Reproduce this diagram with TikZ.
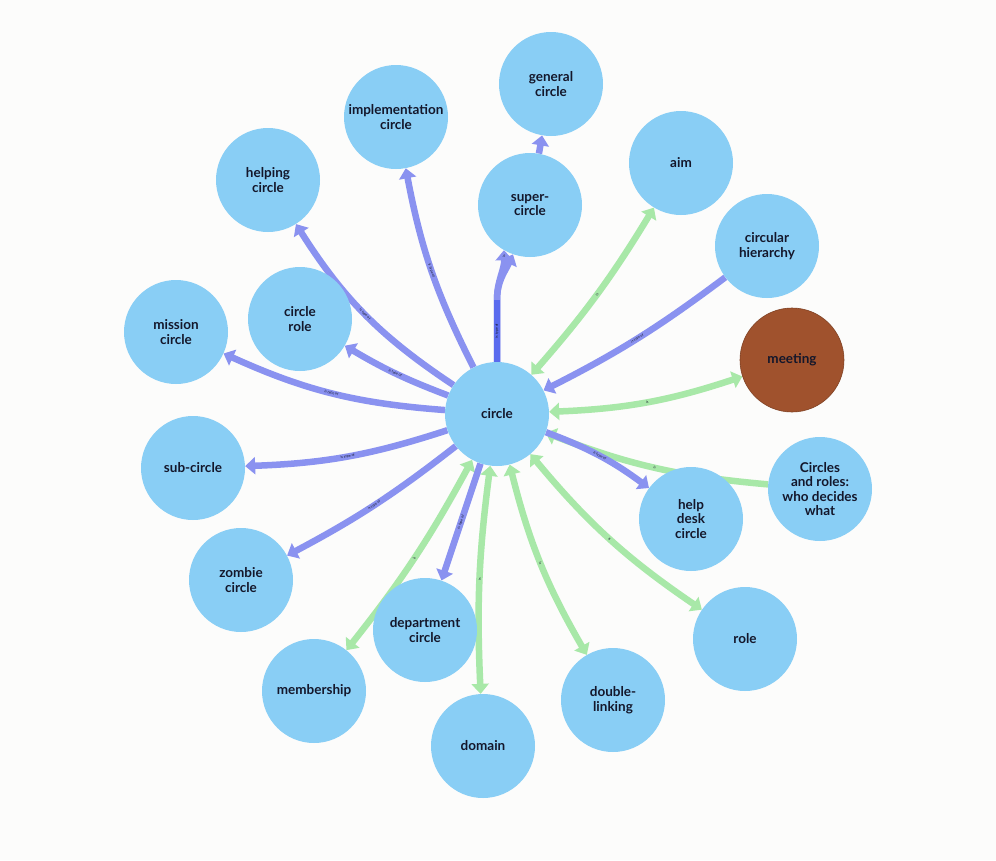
\documentclass[tikz,border=0pt]{standalone}
\usepackage{fontspec}
\setmainfont{Lato}
\usetikzlibrary{arrows.meta,backgrounds}
\definecolor{nodeblue}{HTML}{89CEF5}
\definecolor{edgeblue}{HTML}{8A92F0}
\definecolor{edgedark}{HTML}{5A6BEE}
\definecolor{edgegreen}{HTML}{A8E8A8}
\definecolor{brown}{HTML}{A0522D}
\definecolor{txt}{HTML}{14172B}
\definecolor{bg}{HTML}{FCFCFB}
\tikzset{
  concept/.style={circle, fill=nodeblue, minimum size=104pt, inner sep=0pt, align=center,
    font=\bfseries\fontsize{13.5}{14.5}\selectfont, text=txt},
  meetnode/.style={concept, fill=brown, draw=brown!80!black, line width=0.6pt},
  isa/.style={draw=edgeblue, line width=6.5pt, -{Triangle[length=10pt,width=17pt]}},
  shared/.style={draw=edgedark, line width=6.5pt},
  rel/.style={draw=edgegreen, line width=6.5pt, {Triangle[length=10pt,width=17pt]}-{Triangle[length=10pt,width=17pt]}},
  relone/.style={draw=edgegreen, line width=6.5pt, -{Triangle[length=10pt,width=17pt]}},
  lbl/.style={font=\fontsize{3.5}{4}\selectfont, text=txt, sloped, inner sep=0pt}
}
\begin{document}
\begin{tikzpicture}[x=1pt,y=1pt]
\useasboundingbox (0,0) rectangle (996,-860);

\node[concept] (circle) at (497,-414) {circle};
\node[concept] (general) at (551,-84) {general\\circle};
\node[concept] (impl) at (396,-117) {implementation\\circle};
\node[concept] (helping) at (268,-180) {helping\\circle};
\node[concept] (super) at (530,-205) {super-\\circle};
\node[concept] (aim) at (681,-163) {aim};
\node[concept] (hier) at (767,-246) {circular\\hierarchy};
\node[concept] (mission) at (176,-332) {mission\\circle};
\node[concept] (role1) at (300,-319) {circle\\role};
\node[meetnode] (meeting) at (792,-360) {meeting};
\node[concept] (sub) at (193,-468) {sub-circle};
\node[concept] (help) at (691,-519) {help\\desk\\circle};
\node[concept] (who) at (820,-489) {Circles\\and roles:\\who decides\\what};
\node[concept] (zombie) at (241,-580) {zombie\\circle};
\node[concept] (dept) at (425,-630) {department\\circle};
\node[concept] (role) at (745,-639) {role};
\node[concept] (member) at (314,-691) {membership};
\node[concept] (dbl) at (613,-700) {double-\\linking};
\node[concept] (domain) at (483,-746) {domain};
\coordinate (split) at (497,-300);

\begin{scope}[on background layer]
\fill[bg] (0,0) rectangle (996,-860);
% green relations
\draw[rel] (circle) to[bend right=5] node[lbl]{is} (aim);
\draw[rel] (circle) to[bend right=8] node[lbl]{is} (meeting);
\draw[relone] (who) to[bend left=8] node[lbl]{is} (circle);
\draw[rel] (circle) to[bend right=8] node[lbl]{is} (role);
\draw[rel] (circle) to[bend right=8] node[lbl]{is} (dbl);
\draw[rel] (circle) to[bend right=5] node[lbl]{is} (domain);
\draw[rel] (circle) to[bend left=5] node[lbl]{is} (member);

% blue "is type of" edges
\draw[isa] (circle) to[bend left=12] node[lbl]{is type of} (helping);
\draw[isa] (circle) to[bend left=8] node[lbl]{is type of} (impl);
\draw[isa] (circle) to[bend left=5] node[lbl]{is type of} (role1);
\draw[isa] (circle) to[bend left=10] node[lbl]{is type of} (mission);
\draw[isa] (circle) to[bend left=8] node[lbl]{is type of} (sub);
\draw[isa] (circle) to[bend left=5] node[lbl]{is type of} (zombie);
\draw[isa] (circle.north) -- (split) to[out=90,in=-88] node[lbl, pos=0.9]{is} (super.240);
\draw[isa] (circle.north) -- (split) to[out=90,in=-115] (super.251);
\draw[shared] (circle.north) -- node[lbl]{is type of} (split);
\draw[isa] (super) -- (general);
\draw[isa] (hier) to[bend left=5] node[lbl]{is type of} (circle);
\draw[isa] (circle) to[bend left=8] node[lbl]{is type of} (help);
\draw[isa] (circle) to node[lbl]{is type of} (dept);
\end{scope}
\end{tikzpicture}
\end{document}
